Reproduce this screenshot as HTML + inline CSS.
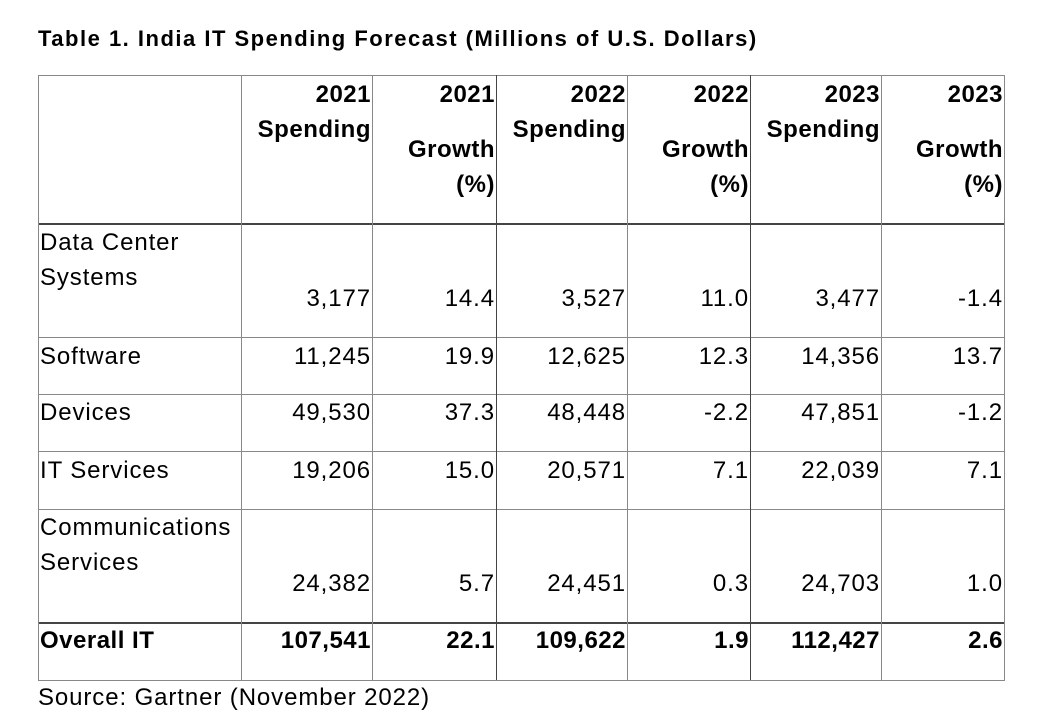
<!DOCTYPE html>
<html><head><meta charset="utf-8"><style>
body{margin:0;background:#fff;width:1043px;height:724px;position:relative;font-family:"Liberation Sans",sans-serif;color:#000;overflow:hidden}
.t{position:absolute;white-space:nowrap;font-size:24px;line-height:28px;letter-spacing:0.9px}
.r{text-align:right}
.b{font-weight:bold;letter-spacing:0.5px}
.l{position:absolute;background:#777}
</style></head><body>
<div class="t b" style="left:38px;top:25px;font-size:22px;letter-spacing:1.5px">Table 1. India IT Spending Forecast (Millions of U.S. Dollars)</div>
<div id="tbl"></div>
<div class="t" style="left:38px;top:684px">Source: Gartner (November 2022)</div>
<script>
const cols=[38,241,372,496,627,750,881,1004];
const rowsY=[75,224,337,394,451,509,623,680];
const labels=[["Data Center","Systems"],["Software"],["Devices"],["IT Services"],["Communications","Services"],["Overall IT"]];
const values=[
["3,177","14.4","3,527","11.0","3,477","-1.4"],
["11,245","19.9","12,625","12.3","14,356","13.7"],
["49,530","37.3","48,448","-2.2","47,851","-1.2"],
["19,206","15.0","20,571","7.1","22,039","7.1"],
["24,382","5.7","24,451","0.3","24,703","1.0"],
["107,541","22.1","109,622","1.9","112,427","2.6"]];
const headers=[["2021","Spending"],["2021","","Growth","(%)"],["2022","Spending"],["2022","","Growth","(%)"],["2023","Spending"],["2023","","Growth","(%)"]];
const tbl=document.getElementById('tbl');
function line(x,y,w,h,c){const d=document.createElement('div');d.className='l';


d.style.cssText=`left:${x}px;top:${y}px;width:${w}px;height:${h}px;background:${c}`;tbl.appendChild(d);}
rowsY.forEach((y,i)=>{const dark=(i==1||i==6);line(38,y-(dark?1:0),967,dark?2:1,dark?'#444':'#888');});
cols.forEach((x,i)=>line(x,75,1,605,(i==3||i==5)?'#444':'#888'));
function txt(s,x,y,cls,name,right){const d=document.createElement('div');d.className='t '+cls;


d.textContent=s;d.style.top=(y-14)+'px';
if(right){d.style.right=(1043-x)+'px';}else d.style.left=x+'px';tbl.appendChild(d);}
const hy=[95,130,150,185];
headers.forEach((h,c)=>h.forEach((s,k)=>{if(s)txt(s,cols[c+2]-1,hy[k],'b r','column-header',true);}));
const lineY=[[243,278],[357],[413],[471],[528,563],[641]];
const valY=[299,357,413,471,584,641];
labels.forEach((lab,r)=>{const bold=r==5?'b':'';
lab.forEach((s,k)=>txt(s,40,lineY[r][k],bold,'row-label',false));
values[r].forEach((v,c)=>txt(v,cols[c+2]-1,valY[r],'r '+bold,'cell-value',true));});
</script>
</body></html>
